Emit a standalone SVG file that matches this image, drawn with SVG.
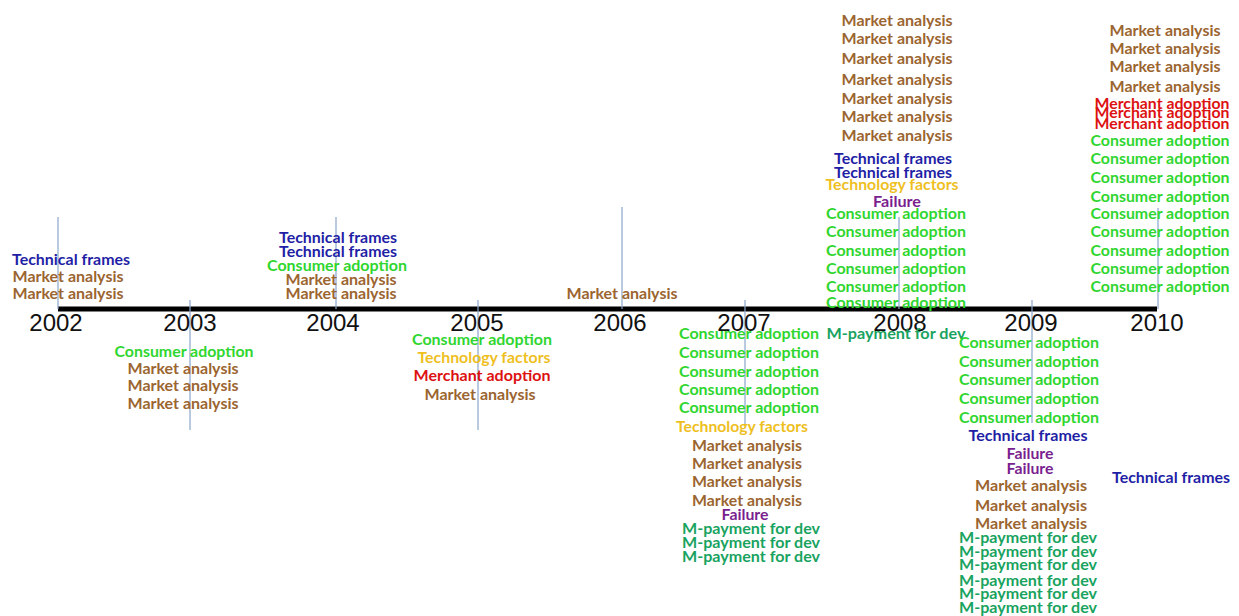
<svg xmlns="http://www.w3.org/2000/svg" width="1239" height="616" viewBox="0 0 1239 616">
<style>
text{font-family:Lato,"Open Sans","Liberation Sans",sans-serif;font-weight:bold;font-size:15px;text-anchor:middle}
.yr{font-family:"Liberation Sans",Arial,sans-serif;font-weight:normal;font-size:24px;fill:#111}
.ma{fill:#9b6530}.ca{fill:#2fd62f}.tf{fill:#1f1fa6}.tech{fill:#eebf1f}.mer{fill:#dd1111}.fail{fill:#7a1f8f}.mp{fill:#19a35f}
.tick{stroke:#8aa6cc;stroke-width:1.2}
.axis{stroke:#000;stroke-width:5}
</style>
<rect width="1239" height="616" fill="#fff"/>
<g id="connectors">
<line class="axis" x1="58" y1="309" x2="1157" y2="309"/>
<line class="tick" x1="58" y1="217" x2="58" y2="309"/>
<line class="tick" x1="190" y1="300" x2="190" y2="430"/>
<line class="tick" x1="336" y1="217" x2="336" y2="309"/>
<line class="tick" x1="478" y1="300" x2="478" y2="430"/>
<line class="tick" x1="622" y1="207" x2="622" y2="309"/>
<line class="tick" x1="745" y1="300" x2="745" y2="425"/>
<line class="tick" x1="899" y1="217" x2="899" y2="309"/>
<line class="tick" x1="1032" y1="300" x2="1032" y2="423"/>
<line class="tick" x1="1158" y1="208" x2="1158" y2="309"/>
</g>
<g id="y2002">
<text class="yr" x="56" y="331">2002</text>
<text class="tf" x="71" y="265" textLength="118" lengthAdjust="spacingAndGlyphs">Technical frames</text>
<text class="ma" x="68" y="282" textLength="111" lengthAdjust="spacingAndGlyphs">Market analysis</text>
<text class="ma" x="68" y="299" textLength="111" lengthAdjust="spacingAndGlyphs">Market analysis</text>
</g>
<g id="y2003">
<text class="yr" x="190" y="331">2003</text>
<text class="ca" x="184" y="357" textLength="139" lengthAdjust="spacingAndGlyphs">Consumer adoption</text>
<text class="ma" x="183" y="374" textLength="111" lengthAdjust="spacingAndGlyphs">Market analysis</text>
<text class="ma" x="183" y="391" textLength="111" lengthAdjust="spacingAndGlyphs">Market analysis</text>
<text class="ma" x="183" y="409" textLength="111" lengthAdjust="spacingAndGlyphs">Market analysis</text>
</g>
<g id="y2004">
<text class="yr" x="333" y="331">2004</text>
<text class="tf" x="338" y="243" textLength="118" lengthAdjust="spacingAndGlyphs">Technical frames</text>
<text class="tf" x="338" y="257" textLength="118" lengthAdjust="spacingAndGlyphs">Technical frames</text>
<text class="ca" x="337" y="271" textLength="140" lengthAdjust="spacingAndGlyphs">Consumer adoption</text>
<text class="ma" x="341" y="285" textLength="111" lengthAdjust="spacingAndGlyphs">Market analysis</text>
<text class="ma" x="341" y="299" textLength="111" lengthAdjust="spacingAndGlyphs">Market analysis</text>
</g>
<g id="y2005">
<text class="yr" x="477" y="331">2005</text>
<text class="ca" x="482" y="345" textLength="140" lengthAdjust="spacingAndGlyphs">Consumer adoption</text>
<text class="tech" x="484" y="363" textLength="133" lengthAdjust="spacingAndGlyphs">Technology factors</text>
<text class="mer" x="482" y="381" textLength="137" lengthAdjust="spacingAndGlyphs">Merchant adoption</text>
<text class="ma" x="480" y="400" textLength="111" lengthAdjust="spacingAndGlyphs">Market analysis</text>
</g>
<g id="y2006">
<text class="yr" x="620" y="331">2006</text>
<text class="ma" x="622" y="299" textLength="111" lengthAdjust="spacingAndGlyphs">Market analysis</text>
</g>
<g id="y2007">
<text class="yr" x="744" y="331">2007</text>
<text class="ca" x="749" y="339" textLength="140" lengthAdjust="spacingAndGlyphs">Consumer adoption</text>
<text class="ca" x="749" y="358" textLength="140" lengthAdjust="spacingAndGlyphs">Consumer adoption</text>
<text class="ca" x="749" y="377" textLength="140" lengthAdjust="spacingAndGlyphs">Consumer adoption</text>
<text class="ca" x="749" y="395" textLength="140" lengthAdjust="spacingAndGlyphs">Consumer adoption</text>
<text class="ca" x="749" y="413" textLength="140" lengthAdjust="spacingAndGlyphs">Consumer adoption</text>
<text class="tech" x="742" y="432" textLength="132" lengthAdjust="spacingAndGlyphs">Technology factors</text>
<text class="ma" x="747" y="451" textLength="110" lengthAdjust="spacingAndGlyphs">Market analysis</text>
<text class="ma" x="747" y="469" textLength="110" lengthAdjust="spacingAndGlyphs">Market analysis</text>
<text class="ma" x="747" y="487" textLength="110" lengthAdjust="spacingAndGlyphs">Market analysis</text>
<text class="ma" x="747" y="506" textLength="110" lengthAdjust="spacingAndGlyphs">Market analysis</text>
<text class="fail" x="745" y="520" textLength="47" lengthAdjust="spacingAndGlyphs">Failure</text>
<text class="mp" x="751" y="534" textLength="138" lengthAdjust="spacingAndGlyphs">M-payment for dev</text>
<text class="mp" x="751" y="548" textLength="138" lengthAdjust="spacingAndGlyphs">M-payment for dev</text>
<text class="mp" x="751" y="562" textLength="138" lengthAdjust="spacingAndGlyphs">M-payment for dev</text>
</g>
<g id="y2008">
<text class="yr" x="900" y="331">2008</text>
<text class="ma" x="897" y="26" textLength="111" lengthAdjust="spacingAndGlyphs">Market analysis</text>
<text class="ma" x="897" y="44" textLength="111" lengthAdjust="spacingAndGlyphs">Market analysis</text>
<text class="ma" x="897" y="64" textLength="111" lengthAdjust="spacingAndGlyphs">Market analysis</text>
<text class="ma" x="897" y="85" textLength="111" lengthAdjust="spacingAndGlyphs">Market analysis</text>
<text class="ma" x="897" y="104" textLength="111" lengthAdjust="spacingAndGlyphs">Market analysis</text>
<text class="ma" x="897" y="122" textLength="111" lengthAdjust="spacingAndGlyphs">Market analysis</text>
<text class="ma" x="897" y="141" textLength="111" lengthAdjust="spacingAndGlyphs">Market analysis</text>
<text class="tf" x="893" y="164" textLength="118" lengthAdjust="spacingAndGlyphs">Technical frames</text>
<text class="tf" x="893" y="178" textLength="118" lengthAdjust="spacingAndGlyphs">Technical frames</text>
<text class="tech" x="892" y="190" textLength="133" lengthAdjust="spacingAndGlyphs">Technology factors</text>
<text class="fail" x="897" y="207" textLength="48" lengthAdjust="spacingAndGlyphs">Failure</text>
<text class="ca" x="896" y="219" textLength="140" lengthAdjust="spacingAndGlyphs">Consumer adoption</text>
<text class="ca" x="896" y="237" textLength="140" lengthAdjust="spacingAndGlyphs">Consumer adoption</text>
<text class="ca" x="896" y="256" textLength="140" lengthAdjust="spacingAndGlyphs">Consumer adoption</text>
<text class="ca" x="896" y="274" textLength="140" lengthAdjust="spacingAndGlyphs">Consumer adoption</text>
<text class="ca" x="896" y="292" textLength="140" lengthAdjust="spacingAndGlyphs">Consumer adoption</text>
<text class="ca" x="896" y="308" textLength="140" lengthAdjust="spacingAndGlyphs">Consumer adoption</text>
<text class="mp" x="896" y="339" textLength="139" lengthAdjust="spacingAndGlyphs">M-payment for dev</text>
</g>
<g id="y2009">
<text class="yr" x="1031" y="331">2009</text>
<text class="ca" x="1029" y="348" textLength="140" lengthAdjust="spacingAndGlyphs">Consumer adoption</text>
<text class="ca" x="1029" y="367" textLength="140" lengthAdjust="spacingAndGlyphs">Consumer adoption</text>
<text class="ca" x="1029" y="385" textLength="140" lengthAdjust="spacingAndGlyphs">Consumer adoption</text>
<text class="ca" x="1029" y="404" textLength="140" lengthAdjust="spacingAndGlyphs">Consumer adoption</text>
<text class="ca" x="1029" y="423" textLength="140" lengthAdjust="spacingAndGlyphs">Consumer adoption</text>
<text class="tf" x="1028" y="441" textLength="119" lengthAdjust="spacingAndGlyphs">Technical frames</text>
<text class="fail" x="1030" y="459" textLength="47" lengthAdjust="spacingAndGlyphs">Failure</text>
<text class="fail" x="1030" y="474" textLength="47" lengthAdjust="spacingAndGlyphs">Failure</text>
<text class="ma" x="1031" y="491" textLength="112" lengthAdjust="spacingAndGlyphs">Market analysis</text>
<text class="ma" x="1031" y="511" textLength="112" lengthAdjust="spacingAndGlyphs">Market analysis</text>
<text class="ma" x="1031" y="529" textLength="112" lengthAdjust="spacingAndGlyphs">Market analysis</text>
<text class="mp" x="1028" y="543" textLength="138" lengthAdjust="spacingAndGlyphs">M-payment for dev</text>
<text class="mp" x="1028" y="557" textLength="138" lengthAdjust="spacingAndGlyphs">M-payment for dev</text>
<text class="mp" x="1028" y="570" textLength="138" lengthAdjust="spacingAndGlyphs">M-payment for dev</text>
<text class="mp" x="1028" y="586" textLength="138" lengthAdjust="spacingAndGlyphs">M-payment for dev</text>
<text class="mp" x="1028" y="599" textLength="138" lengthAdjust="spacingAndGlyphs">M-payment for dev</text>
<text class="mp" x="1028" y="613" textLength="138" lengthAdjust="spacingAndGlyphs">M-payment for dev</text>
</g>
<g id="y2010">
<text class="yr" x="1157" y="331">2010</text>
<text class="ma" x="1165" y="36" textLength="111" lengthAdjust="spacingAndGlyphs">Market analysis</text>
<text class="ma" x="1165" y="54" textLength="111" lengthAdjust="spacingAndGlyphs">Market analysis</text>
<text class="ma" x="1165" y="72" textLength="111" lengthAdjust="spacingAndGlyphs">Market analysis</text>
<text class="ma" x="1165" y="92" textLength="111" lengthAdjust="spacingAndGlyphs">Market analysis</text>
<text class="mer" x="1162" y="109" textLength="135" lengthAdjust="spacingAndGlyphs">Merchant adoption</text>
<text class="mer" x="1162" y="118" textLength="135" lengthAdjust="spacingAndGlyphs">Merchant adoption</text>
<text class="mer" x="1162" y="129" textLength="135" lengthAdjust="spacingAndGlyphs">Merchant adoption</text>
<text class="ca" x="1160" y="146" textLength="139" lengthAdjust="spacingAndGlyphs">Consumer adoption</text>
<text class="ca" x="1160" y="164" textLength="139" lengthAdjust="spacingAndGlyphs">Consumer adoption</text>
<text class="ca" x="1160" y="183" textLength="139" lengthAdjust="spacingAndGlyphs">Consumer adoption</text>
<text class="ca" x="1160" y="202" textLength="139" lengthAdjust="spacingAndGlyphs">Consumer adoption</text>
<text class="ca" x="1160" y="219" textLength="139" lengthAdjust="spacingAndGlyphs">Consumer adoption</text>
<text class="ca" x="1160" y="237" textLength="139" lengthAdjust="spacingAndGlyphs">Consumer adoption</text>
<text class="ca" x="1160" y="256" textLength="139" lengthAdjust="spacingAndGlyphs">Consumer adoption</text>
<text class="ca" x="1160" y="274" textLength="139" lengthAdjust="spacingAndGlyphs">Consumer adoption</text>
<text class="ca" x="1160" y="292" textLength="139" lengthAdjust="spacingAndGlyphs">Consumer adoption</text>
<text class="tf" x="1171" y="483" textLength="118" lengthAdjust="spacingAndGlyphs">Technical frames</text>
</g>
</svg>
